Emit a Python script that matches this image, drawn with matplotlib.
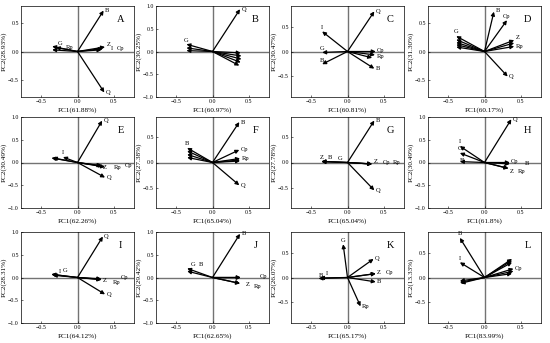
import numpy as np
import matplotlib
matplotlib.use('Agg')
import matplotlib.pyplot as plt

plt.rcParams['font.family'] = ['Liberation Serif', 'DejaVu Serif']

letters = ['A', 'B', 'C', 'D', 'E', 'F', 'G', 'H', 'I', 'J', 'K', 'L']
pc1 = ['61.88', '60.97', '60.81', '60.17', '62.26', '65.04',
       '65.04', '61.8', '64.12', '62.65', '65.17', '83.99']
pc2 = ['28.93', '30.25', '30.47', '31.30', '30.49', '27.38',
       '27.78', '30.49', '28.31', '29.42', '26.07', '13.33']
ylims = [0.8, 1.0, 0.93, 0.8, 1.0, 0.9, 0.9, 1.0, 1.0, 1.0, 0.93, 0.93]

# loadings: (label, PC1, PC2)
load_A = [('B', 0.36, 0.72), ('Q', 0.37, -0.72), ('Z', 0.38, 0.08), ('I', 0.35, 0.05),
          ('Cp', 0.33, 0.03), ('G', -0.35, 0.09), ('Rp', -0.35, 0.03), ('', -0.30, 0.07)]
load_B = [('Q', 0.38, 0.93), ('', 0.39, -0.03), ('', 0.40, -0.10), ('', 0.40, -0.17),
          ('', 0.39, -0.24), ('', 0.37, -0.31), ('G', -0.36, 0.16), ('', -0.36, 0.08),
          ('', -0.36, 0.02)]
load_C = [('Q', 0.37, 0.82), ('I', -0.35, 0.41), ('G', -0.35, -0.02), ('B', -0.35, -0.26),
          ('Cp', 0.39, 0.0), ('Rp', 0.38, -0.07), ('', 0.34, -0.13), ('B', 0.37, -0.35)]
load_D = [('B', 0.13, 0.70), ('Cp', 0.31, 0.55), ('Z', 0.41, 0.20), ('Rp', 0.41, 0.09),
          ('', 0.41, 0.15), ('Q', 0.32, -0.44), ('G', -0.39, 0.27), ('', -0.39, 0.21),
          ('', -0.39, 0.16), ('', -0.39, 0.12), ('', -0.39, 0.08)]
load_E = [('Q', 0.34, 0.92), ('', -0.36, 0.10), ('', -0.34, 0.10), ('I', -0.20, 0.12),
          ('Z', 0.33, -0.07), ('Rp', 0.35, -0.08), ('Cp', 0.38, -0.10), ('Q', 0.38, -0.33)]
load_F = [('B', 0.37, 0.80), ('Cp', 0.37, 0.25), ('Rp', 0.38, 0.08), ('', 0.38, 0.05),
          ('', 0.38, 0.03), ('Q', 0.37, -0.45), ('B', -0.35, 0.29), ('', -0.35, 0.23),
          ('', -0.35, 0.16), ('', -0.35, 0.10)]
load_G = [('B', 0.37, 0.83), ('Q', 0.37, -0.55), ('Z', 0.34, -0.03), ('Cp', 0.34, -0.03),
          ('Rp', 0.34, -0.03), ('Z', -0.36, 0.02), ('B', -0.36, 0.02), ('G', -0.36, 0.02)]
load_H = [('Q', 0.37, 0.95), ('I', -0.34, 0.36), ('G', -0.34, 0.21), ('B', -0.34, 0.02),
          ('Cp', 0.35, 0.0), ('B', 0.35, -0.03), ('Z', 0.33, -0.13), ('Rp', 0.33, -0.13)]
load_I = [('Q', 0.35, 0.90), ('I', -0.36, 0.07), ('G', -0.36, 0.07), ('', -0.34, 0.05),
          ('Z', 0.33, -0.04), ('Rp', 0.33, -0.05), ('Cp', 0.33, -0.03), ('Q', 0.38, -0.37)]
load_J = [('B', 0.38, 0.96), ('G', -0.35, 0.20), ('B', -0.35, 0.14), ('', 0.39, 0.0),
          ('Z', 0.38, -0.13), ('Rp', 0.38, -0.13), ('Cp', 0.39, 0.0)]
load_K = [('G', -0.06, 0.68), ('Q', 0.36, 0.38), ('Z', 0.39, 0.08), ('Cp', 0.39, 0.08),
          ('B', 0.39, -0.09), ('Rp', 0.18, -0.59), ('B', -0.40, -0.02), ('I', -0.38, -0.01)]
load_L = [('B', -0.34, 0.81), ('I', -0.34, 0.31), ('', 0.38, 0.38), ('', 0.38, 0.35),
          ('', 0.38, 0.31), ('Cp', 0.40, 0.18), ('', 0.40, 0.13), ('', 0.38, 0.08),
          ('', -0.34, -0.07), ('', -0.34, -0.10), ('', -0.33, -0.12)]
loads = [load_A, load_B, load_C, load_D, load_E, load_F,
         load_G, load_H, load_I, load_J, load_K, load_L]

# label offsets from the arrow tip, in points (layout only)
offs = [
    [(1, 0), (1, 0), (1, 2), (6, 0), (11, 1), (4, 2), (10, 2), None],
    [(1, 0), None, None, None, None, None, (0, 3), None, None],
    [(1, 0), (0, 3), (0, 3), (0, 3), (1, 1), (1, -1), None, (1, 0)],
    [(1, 1), (0, 3), (1, 2), (1, 0), None, (1, 0), (0, 3), None, None, None, None],
    [(1, 0), None, None, (0, 3), (1, -1), (8, -1), (14, 1), (1, 0)],
    [(1, 0), (1, 0), (1, 0), None, None, (1, 0), (0, 3), None, None, None],
    [(1, 0), (1, 0), (1, 2), (8, 1), (15, 1), (0, 3), (6, 3), (12, 2)],
    [(1, 0), (0, 3), (0, 3), (0, 1), (1, 1), (11, 0), (1, -2), (7, -2)],
    [(1, 0), (5, 2), (10, 3), None, (1, -1), (8, -2), (14, 1), (1, 0)],
    [(1, 0), (4, 3), (10, 5), None, (4, -1), (10, -2), (14, 1)],
    [(0, 3), (1, 0), (1, 1), (7, 1), (1, 0), (1, 0), (0, 2), (5, 3)],
    [(0, 3), (0, 3), None, None, None, (1, 0), None, None, None, None, None],
]

W, H = 550.0, 343.0
col_left = [21, 156, 291, 428]
row_top = [6, 117, 232]
aw, ah = 113, 91

fig = plt.figure(figsize=(5.5, 3.43), dpi=100)
for i in range(12):
    r, c = divmod(i, 4)
    ax = fig.add_axes([col_left[c] / W, 1 - (row_top[r] + ah) / H, aw / W, ah / H])
    yl = ylims[i]
    ax.set_xlim(-0.78, 0.78)
    ax.set_ylim(-yl, yl)
    ax.axhline(0, color='0.45', lw=1.0, zorder=1)
    ax.axvline(0, color='0.45', lw=1.0, zorder=1)
    for (lab, x, y), off in zip(loads[i], offs[i]):
        ax.annotate('', xy=(x, y), xytext=(0, 0),
                    arrowprops=dict(arrowstyle='-|>', color='black', lw=0.9,
                                    mutation_scale=5.5, shrinkA=0, shrinkB=0), zorder=3)
        if lab:
            ax.annotate(lab, xy=(x, y), xytext=off, textcoords='offset points',
                        fontsize=4.7, ha='left' if off[1] < 3 else 'center', va='center')
    ax.text(0.88, 0.85, letters[i], transform=ax.transAxes, fontsize=7.5,
            ha='center', va='center')
    ax.set_xticks([-0.5, 0.0, 0.5])
    if yl >= 1.0:
        ax.set_yticks([-1.0, -0.5, 0.0, 0.5, 1.0])
    else:
        ax.set_yticks([-0.5, 0.0, 0.5])
    ax.tick_params(labelsize=4.2, length=1.5, width=0.4, direction='in', pad=1.5)
    for s in ax.spines.values():
        s.set_linewidth(0.5)
    ax.set_xlabel('PC1(%s%%)' % pc1[i], fontsize=5.2, labelpad=2)
    ax.set_ylabel('PC2(%s%%)' % pc2[i], fontsize=5.2, labelpad=1)

fig.savefig('out.png', dpi=100)
